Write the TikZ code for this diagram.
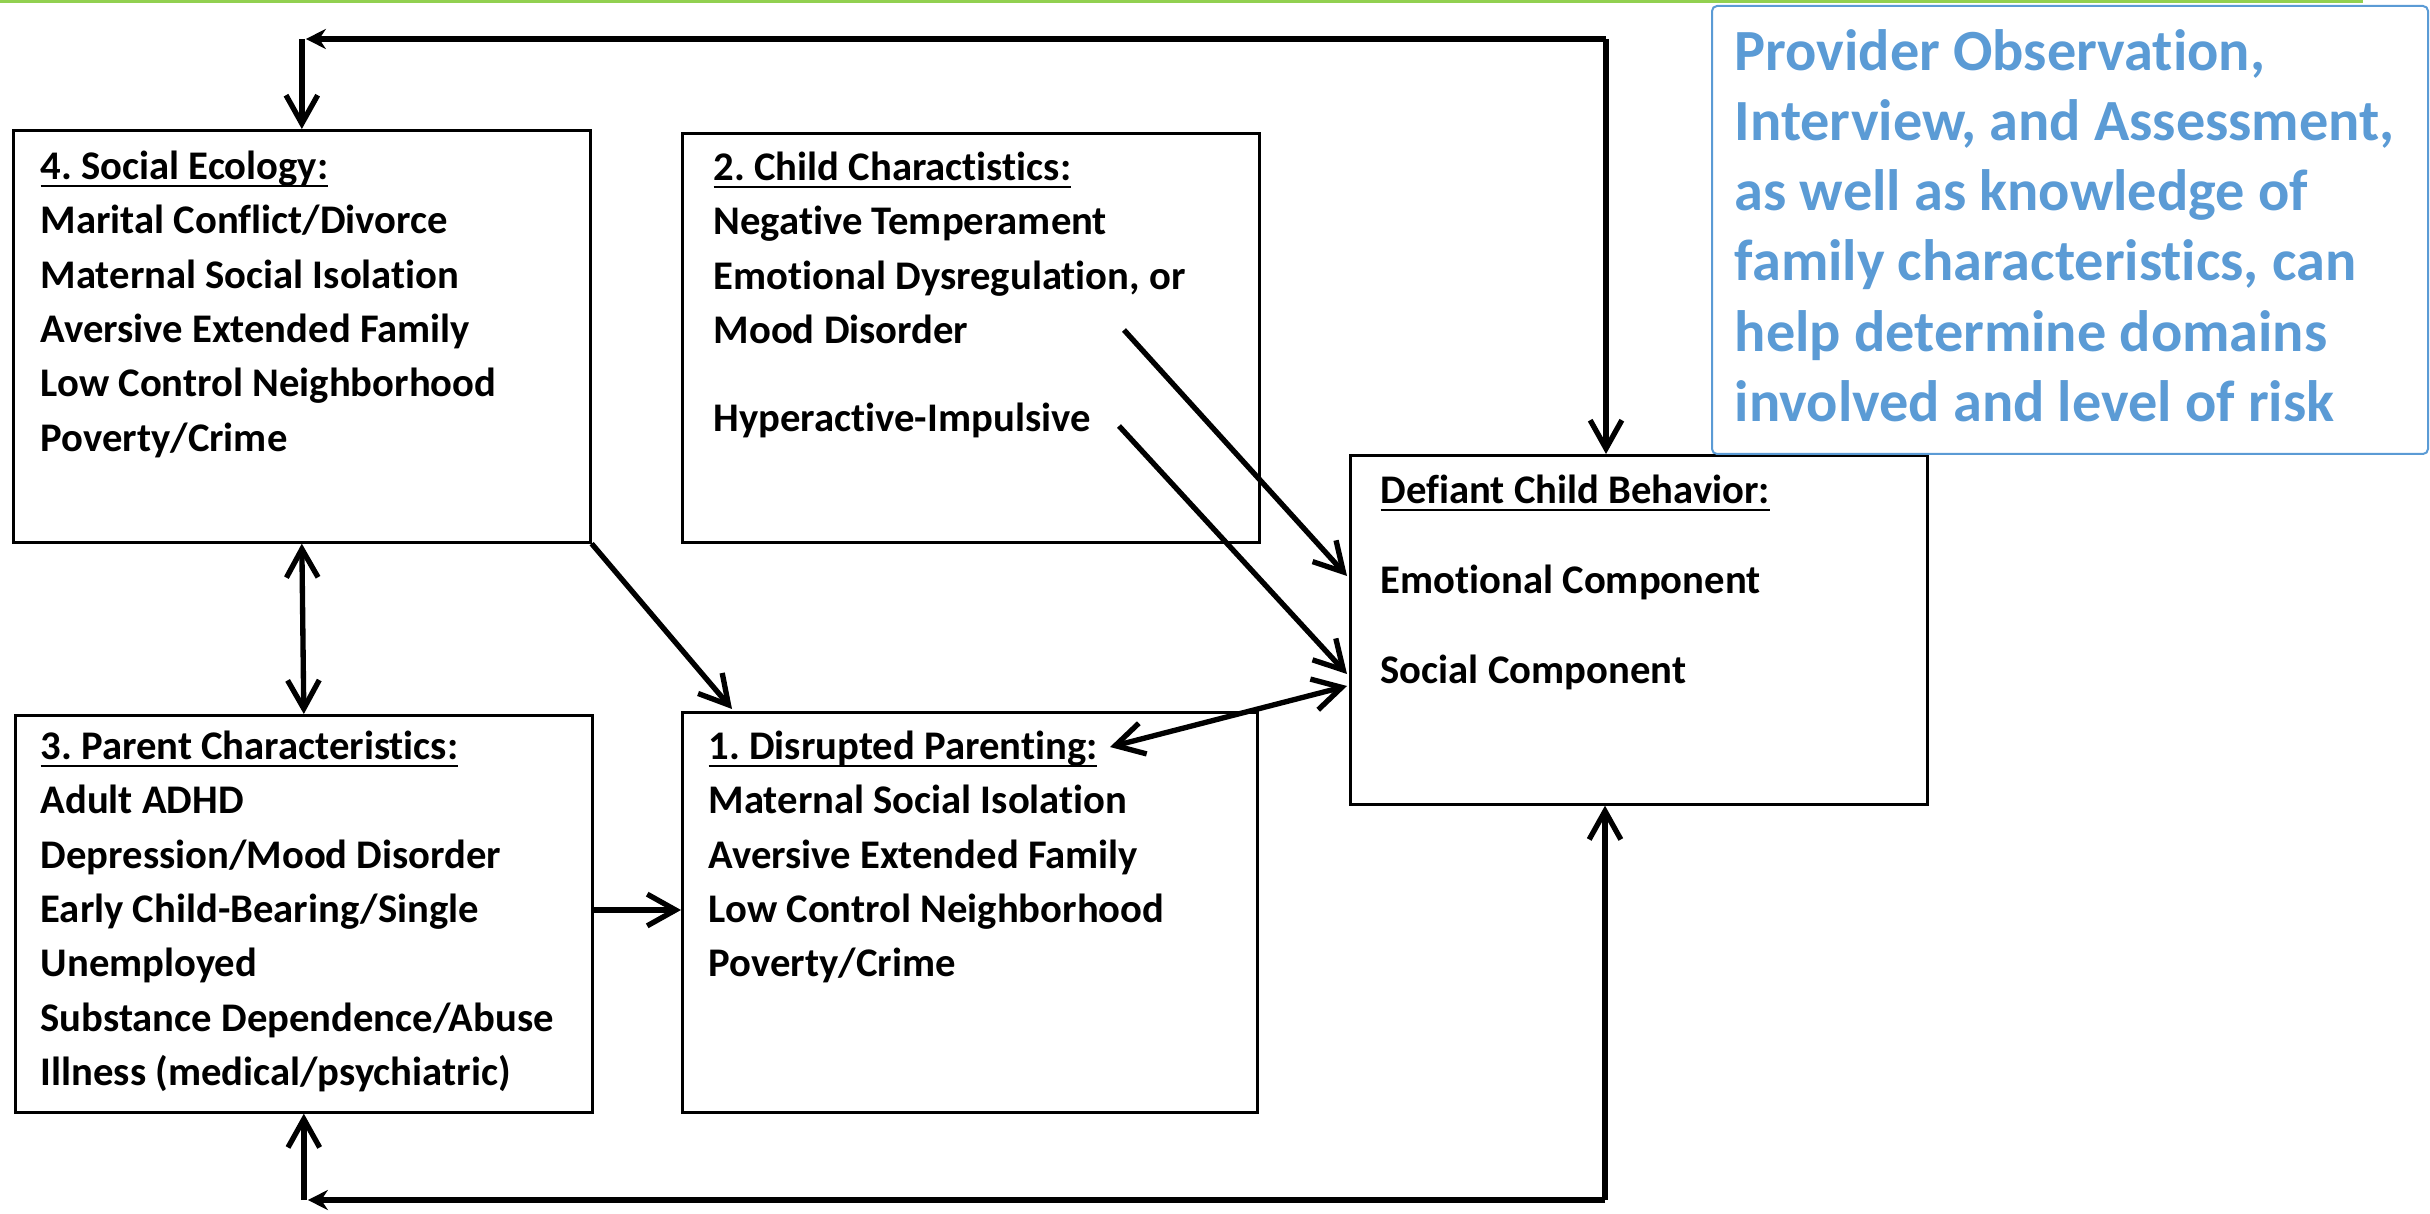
\documentclass[tikz,border=0pt]{standalone}
\usepackage{fontspec}
\setmainfont{Carlito}[Ligatures=NoCommon]
\usetikzlibrary{arrows.meta,calc}
\definecolor{grn}{HTML}{92D050}
\definecolor{blu}{HTML}{5B9BD5}
\newcommand\myul[1]{\setbox0\hbox{#1}\rlap{\rule[-2.3pt]{\wd0}{0.75pt}}\box0}
\newcommand\fst{\rule{0pt}{10pt}}
\frenchspacing
\begin{document}
\begin{tikzpicture}[x=0.3pt,y=-0.3pt,
  boxs/.style={draw,line width=0.8pt,inner sep=0,anchor=north west},
  txt/.style={anchor=north west,inner sep=0,align=left,font=\fontsize{12.2}{16.3}\selectfont\bfseries},
  arr/.style={line width=1.6pt,-{Straight Barb[length=8.5pt,width=9.5pt]}},
  darr/.style={line width=1.6pt,{Straight Barb[length=8.5pt,width=9.5pt]}-{Straight Barb[length=8.5pt,width=9.5pt]}},
  carr/.style={line width=1.6pt,-{Stealth[length=6pt,width=6pt]}}]
\useasboundingbox (0,0) rectangle (2430,1214);
\fill[grn] (0,0) rectangle (2363,3);
% boxes
\node[boxs,minimum width=173.1pt,minimum height=123.6pt] (box4) at (12,129) {};
\node[boxs,minimum width=173.1pt,minimum height=122.7pt] (box2) at (681,132) {};
\node[boxs,minimum width=173.1pt,minimum height=119.1pt] (box3) at (14,714) {};
\node[boxs,minimum width=172.5pt,minimum height=120pt] (box1) at (681,711) {};
\node[boxs,minimum width=173.1pt,minimum height=104.7pt] (defiant) at (1349,454) {};
\node[draw=blu,line width=0.6pt,rounded corners=1.5pt,inner sep=0,anchor=north west,minimum width=214.8pt,minimum height=134.4pt] (bluebox) at (1711,5) {};
% texts
\node[txt] (t4) at (40,145.5) {\fst\myul{4. Social Ecology:}\\Marital Conflict/Divorce\\Maternal Social Isolation\\Aversive Extended Family\\Low Control Neighborhood\\Poverty/Crime};
\node[txt] (t2) at (713,146.5) {\fst\myul{2. Child Charactistics:}\\Negative Temperament\\Emotional Dysregulation, or\\Mood Disorder\\[10pt]Hyperactive-Impulsive};
\node[txt] (t3) at (40,725.5) {\fst\myul{3. Parent Characteristics:}\\Adult ADHD\\Depression/Mood Disorder\\Early Child-Bearing/Single\\Unemployed\\Substance Dependence/Abuse\\Illness (medical/psychiatric)};
\node[txt] (t1) at (708,725.5) {\fst\myul{1. Disrupted Parenting:}\\Maternal Social Isolation\\Aversive Extended Family\\Low Control Neighborhood\\Poverty/Crime};
\node[txt,font=\fontsize{12.2}{27}\selectfont\bfseries] (td) at (1380,469.7) {\fst\myul{Defiant Child Behavior:}\\Emotional Component\\Social Component};
\node[anchor=north west,inner sep=0,align=left,text=blu,font=\fontsize{17.5}{21.06}\selectfont\bfseries] (tb) at (1734,23) {\rule{0pt}{14pt}Provider Observation,\\Interview, and Assessment,\\as well as knowledge of\\family characteristics, can\\help determine domains\\involved and level of risk};
% coordinates
\coordinate (ytop) at (0,39);
\coordinate (ybot) at (0,1200);
\coordinate (y910) at (0,910);
\coordinate (tl) at (box4.north |- ytop);
\coordinate (tr) at (1606,39);
\coordinate (br) at (1605,1200);
\coordinate (bl) at (box3.south |- ybot);
\coordinate (s1) at (1124,330);
\coordinate (s2) at (1119,426);
\coordinate (d1) at (1110,747);
\coordinate (e1) at ($(defiant.north west)+(-2,122)$);
\coordinate (e2) at ($(defiant.north west)+(-2,220)$);
\coordinate (e3) at ($(defiant.north west)+(-2,232)$);
% connectors
\draw[carr] (tr) -- ($(tl)+(4,0)$);
\draw[arr] (tl) -- (box4.north);
\draw[arr] (tr) -- (tr |- defiant.north);
\draw[darr] (box4.south) -- (box3.north);
\draw[arr] (box4.south east) -- ($(box1.north west)+(51,-2)$);
\draw[arr] (box3.east |- y910) -- (box1.west |- y910);
\draw[arr] (s1) -- (e1);
\draw[arr] (s2) -- (e2);
\draw[darr] (d1) -- (e3);
\draw[arr] (br) -- (br |- defiant.south);
\draw[carr] (br) -- ($(bl)+(4,0)$);
\draw[arr] (bl) -- (box3.south);
\end{tikzpicture}
\end{document}
